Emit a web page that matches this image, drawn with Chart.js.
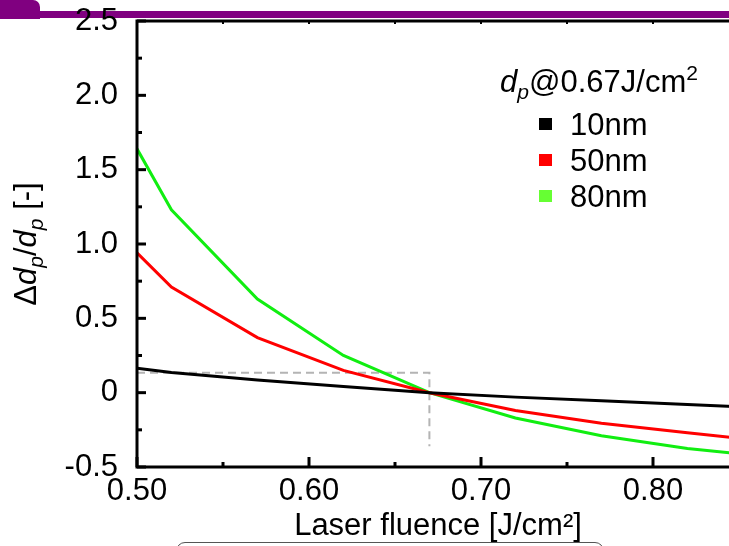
<!DOCTYPE html>
<html>
<head>
<meta charset="utf-8">
<script src="https://cdn.jsdelivr.net/npm/chart.js@4.4.1/dist/chart.umd.min.js"></script>
<style>
  html, body { margin: 0; padding: 0; background: #fff; overflow: hidden; }
  #wrap { position: relative; width: 729px; height: 546px; overflow: hidden; }
  .band { position: absolute; left: 0; top: 11px; width: 729px; height: 7px; background: #800080; }
  .tab { position: absolute; left: 0; top: 0; width: 40px; height: 19px; background: #800080; border-top-right-radius: 7px; }
  .note { position: absolute; left: 176px; top: 542px; width: 428px; height: 30px; border: 1.5px solid #555; border-radius: 9px; box-sizing: border-box; }
  #chart { position: absolute; left: 0; top: 0; }
</style>
</head>
<body>
<div id="wrap">
  <div class="band"></div>
  <div class="tab"></div>
  <div class="note"></div>
  <canvas id="chart" width="745" height="546"></canvas>
</div>
<script>
// fluence grid [J/cm2] and relative size change for each initial diameter
const fluence = [0.50, 0.52, 0.57, 0.62, 0.67, 0.72, 0.77, 0.82, 0.87];
const d10nm = [0.165, 0.135, 0.085, 0.042, 0, -0.03, -0.055, -0.08, -0.105];
const d50nm = [0.94, 0.71, 0.37, 0.15, 0, -0.12, -0.205, -0.27, -0.33];
const d80nm = [1.64, 1.23, 0.63, 0.25, 0, -0.17, -0.29, -0.375, -0.435];

// reference marker at 0.67 J/cm2
const refX = [0.50, 0.67, 0.67];
const refY = [0.134, 0.134, -0.36];

const seriesLabels = ['10nm', '50nm', '80nm'];
const lineColors = ['#000000', '#ff0000', '#11ee11'];
const keyColors = ['#000000', '#ff0000', '#66ff33'];

const FONT = "'Liberation Sans', Arial, Helvetica, sans-serif";
const FS = 31;

Chart.defaults.color = '#000';
Chart.defaults.font.family = FONT;
Chart.defaults.font.size = FS;

function pts(xs, ys) {
  return xs.map((v, i) => ({ x: v, y: ys[i] }));
}

// draws a run of text pieces (italic / subscript / superscript) starting at x
function drawRuns(ctx, runs, x, y) {
  runs.forEach(r => {
    const size = r.sub || r.sup ? FS * 0.68 : FS;
    ctx.font = (r.it ? 'italic ' : '') + size + 'px ' + FONT;
    const dy = r.sub ? FS * 0.24 : r.sup ? -FS * 0.38 : 0;
    ctx.fillText(r.t, x, y + dy);
    x += ctx.measureText(r.t).width;
  });
  return x;
}

function runsWidth(ctx, runs) {
  let w = 0;
  runs.forEach(r => {
    const size = r.sub || r.sup ? FS * 0.68 : FS;
    ctx.font = (r.it ? 'italic ' : '') + size + 'px ' + FONT;
    w += ctx.measureText(r.t).width;
  });
  return w;
}

function isMajor(v, step) {
  return Math.abs(Math.round(v / step) * step - v) < 1e-6;
}

// axis frame with major / minor ticks
const frame = {
  id: 'frame',
  afterDatasetsDraw(chart) {
    const { ctx, chartArea: a, scales: { x, y } } = chart;
    ctx.save();
    ctx.strokeStyle = '#000';
    ctx.lineWidth = 3;
    ctx.beginPath();
    ctx.moveTo(a.right + 20, a.top);
    ctx.lineTo(a.left, a.top);
    ctx.lineTo(a.left, a.bottom);
    ctx.lineTo(a.right + 20, a.bottom);
    ctx.stroke();

    y.ticks.forEach(t => {
      const py = y.getPixelForValue(t.value);
      const len = isMajor(t.value, 0.5) ? 9 : 5;
      ctx.beginPath();
      ctx.moveTo(a.left, py);
      ctx.lineTo(a.left + len, py);
      ctx.stroke();
    });
    x.ticks.forEach(t => {
      const px = x.getPixelForValue(t.value);
      const len = isMajor(t.value, 0.1) ? 10 : 5;
      ctx.lineWidth = 3;
      ctx.beginPath();
      ctx.moveTo(px, a.bottom);
      ctx.lineTo(px, a.bottom - len);
      ctx.stroke();
      ctx.lineWidth = 2;
      ctx.beginPath();
      ctx.moveTo(px, a.top);
      ctx.lineTo(px, a.top + 3);
      ctx.stroke();
    });
    ctx.restore();
  },
  afterDraw(chart) {
    const { ctx, chartArea: a } = chart;
    ctx.save();
    ctx.fillStyle = '#000';
    ctx.textBaseline = 'alphabetic';
    ctx.textAlign = 'left';

    // y axis title, rotated
    const yRuns = [
      { t: '\u0394' }, { t: 'd', it: true }, { t: 'p', it: true, sub: true },
      { t: '/' }, { t: 'd', it: true }, { t: 'p', it: true, sub: true }, { t: ' [-]' }
    ];
    const yw = runsWidth(ctx, yRuns);
    ctx.save();
    ctx.translate(36, (a.top + a.bottom) / 2);
    ctx.rotate(-Math.PI / 2);
    drawRuns(ctx, yRuns, -yw / 2, 0);
    ctx.restore();

    // legend block
    drawRuns(ctx, [
      { t: 'd', it: true }, { t: 'p', it: true, sub: true },
      { t: '@0.67J/cm' }, { t: '2', sup: true }
    ], 500, 92);
    ctx.font = FS + 'px ' + FONT;
    seriesLabels.forEach((lab, i) => {
      const base = 135 + i * 36;
      ctx.fillStyle = keyColors[i];
      ctx.fillRect(539, base - 17, 13, 12);
      ctx.fillStyle = '#000';
      ctx.fillText(lab, 570, base);
    });
    ctx.restore();
  }
};

const lineSet = (label, ys, i) => ({
  label: label,
  data: pts(fluence, ys),
  borderColor: lineColors[i],
  borderWidth: 3,
  pointRadius: 0,
  tension: 0,
  fill: false,
  order: 0
});

new Chart(document.getElementById('chart'), {
  type: 'line',
  data: {
    datasets: [
      lineSet(seriesLabels[0], d10nm, 0),
      lineSet(seriesLabels[1], d50nm, 1),
      lineSet(seriesLabels[2], d80nm, 2),
      {
        label: 'ref',
        data: pts(refX, refY),
        borderColor: '#b4b4b4',
        borderWidth: 2,
        borderDash: [8, 5],
        pointRadius: 0,
        fill: false,
        order: 1
      }
    ]
  },
  options: {
    responsive: false,
    animation: false,
    events: [],
    layout: { padding: { left: 0, top: 21, right: 6, bottom: 0 } },
    plugins: { legend: { display: false }, tooltip: { enabled: false } },
    scales: {
      x: {
        type: 'linear',
        min: 0.5,
        max: 0.85,
        grid: { display: false, drawTicks: false },
        border: { display: false },
        ticks: {
          stepSize: 0.05,
          autoSkip: false,
          maxRotation: 0,
          padding: 6,
          callback: v => isMajor(v, 0.1) ? v.toFixed(2) : ''
        },
        title: {
          display: true,
          text: 'Laser fluence [J/cm\u00b2]',
          padding: { top: 0, bottom: 1 }
        },
        afterFit: s => { s.height = 79; s.paddingLeft = 0; s.paddingRight = 0; }
      },
      y: {
        min: -0.5,
        max: 2.5,
        grid: { display: false, drawTicks: false },
        border: { display: false },
        ticks: {
          stepSize: 0.25,
          autoSkip: false,
          padding: 19,
          callback: v => isMajor(v, 0.5) ? (Math.abs(v) < 1e-9 ? '0' : v.toFixed(1)) : ''
        },
        afterFit: s => { s.width = 137; s.paddingTop = 0; s.paddingBottom = 0; }
      }
    }
  },
  plugins: [frame]
});
</script>
</body>
</html>
